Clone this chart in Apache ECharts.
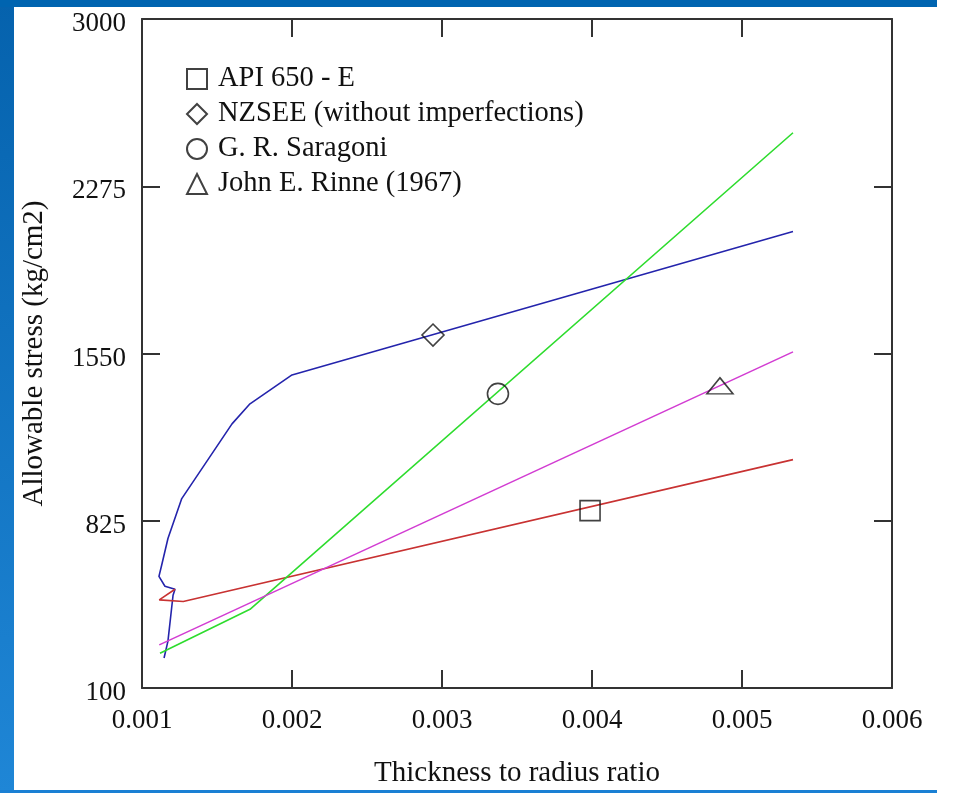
<!DOCTYPE html>
<html>
<head>
<meta charset="utf-8">
<script src="https://cdn.jsdelivr.net/npm/echarts@6/dist/echarts.min.js"></script>
<style>
  html, body { margin: 0; padding: 0; background: #fff; }
  #main { width: 953px; height: 793px; }
</style>
</head>
<body>
<div id="main"></div>
<script>
// axis ticks
var xTicks = [0.001, 0.002, 0.003, 0.004, 0.005, 0.006];
var yTicks = [100, 825, 1550, 2275, 3000];

// NZSEE (without imperfections) - blue
var nzseeX = [0.001147, 0.001173, 0.001207, 0.00122, 0.001153, 0.001113, 0.001131, 0.001173, 0.001265, 0.0016, 0.00172, 0.002, 0.00534];
var nzseeY = [230, 303, 502, 528, 541, 584, 632, 748, 921, 1245, 1332, 1457, 2079];

// API 650 - E - red
var apiX = [0.00122, 0.001115, 0.001275, 0.00534];
var apiY = [528, 482, 475, 1090];

// G. R. Saragoni - green
var saragoniX = [0.00112, 0.00172, 0.00534];
var saragoniY = [251, 441, 2507];

// John E. Rinne (1967) - magenta
var rinneX = [0.001115, 0.00534];
var rinneY = [287, 1557];

// one marker per curve
var markerNames = ['API 650 - E', 'NZSEE (without imperfections)', 'G. R. Saragoni', 'John E. Rinne (1967)'];
var markerSymbols = ['rect', 'diamond', 'circle', 'triangle'];
var markerX = [0.003987, 0.00294, 0.003373, 0.004853];
var markerY = [869, 1630, 1375, 1410];

function pairs(xs, ys) {
  return xs.map(function (x, i) { return [x, ys[i]]; });
}

var FONT = '"Liberation Serif", "DejaVu Serif", serif';
var chart = echarts.init(document.getElementById('main'));

function lineSeries(xs, ys, color) {
  return {
    type: 'line',
    data: pairs(xs, ys),
    symbol: 'none',
    silent: true,
    z: 2,
    lineStyle: { color: color, width: 1.6 }
  };
}

var series = [
  lineSeries(nzseeX, nzseeY, '#2424ac'),
  lineSeries(apiX, apiY, '#c83232'),
  lineSeries(saragoniX, saragoniY, '#2edc2e'),
  lineSeries(rinneX, rinneY, '#d23cd2')
];

var symSizes = [[20, 20], [22, 22], [21, 21], [26, 16]];
markerNames.forEach(function (name, i) {
  series.push({
    type: 'scatter',
    name: name,
    data: [[markerX[i], markerY[i]]],
    symbol: markerSymbols[i],
    symbolSize: symSizes[i],
    z: 5,
    itemStyle: { color: 'rgba(255,255,255,0)', borderColor: '#111', borderWidth: 1.6 }
  });
});

var axisLine = { show: true, lineStyle: { color: '#333', width: 2 } };
var axisTick = { show: true, inside: true, length: 18, lineStyle: { color: '#333', width: 2 } };

var option = {
  backgroundColor: '#fff',
  animation: false,
  graphic: [
    { type: 'rect', shape: { x: 0, y: 0, width: 14, height: 793 },
      style: { fill: new echarts.graphic.LinearGradient(0, 0, 0, 1, [
        { offset: 0, color: '#0562ad' }, { offset: 1, color: '#1f86d6' }]) } },
    { type: 'rect', shape: { x: 0, y: 0, width: 937, height: 7 }, style: { fill: '#0064b0' } },
    { type: 'rect', shape: { x: 0, y: 790, width: 937, height: 3 }, style: { fill: '#1a80d4' } }
  ],
  grid: { left: 142, right: 61, top: 19, bottom: 103 },
  legend: {
    orient: 'vertical',
    left: 181,
    top: 59,
    itemWidth: 20,
    itemHeight: 20,
    itemGap: 5,
    data: markerNames.map(function (n, i) { return { name: n, icon: markerSymbols[i] }; }),
    textStyle: { fontFamily: FONT, fontSize: 28.5, color: '#111', lineHeight: 30, padding: [0, 0, 0, 6] }
  },
  xAxis: [{
    type: 'value',
    min: 0.001, max: 0.006, interval: 0.001,
    name: 'Thickness to radius ratio',
    nameLocation: 'middle',
    nameGap: 71,
    nameTextStyle: { fontFamily: FONT, fontSize: 29, color: '#111' },
    axisLine: axisLine,
    axisTick: axisTick,
    splitLine: { show: false },
    axisLabel: {
      fontFamily: FONT, fontSize: 27, color: '#111', margin: 19,
      formatter: function (v) { return v.toFixed(3); }
    }
  }, {
    type: 'value', position: 'top',
    min: 0.001, max: 0.006, interval: 0.001,
    axisLine: axisLine, axisTick: axisTick,
    axisLabel: { show: false }, splitLine: { show: false }
  }],
  yAxis: [{
    type: 'value',
    min: 100, max: 3000,
    name: 'Allowable stress (kg/cm2)',
    nameLocation: 'middle',
    nameGap: 93,
    nameTextStyle: { fontFamily: FONT, fontSize: 29, color: '#111' },
    axisLine: axisLine,
    axisTick: Object.assign({ customValues: yTicks }, axisTick),
    splitLine: { show: false },
    axisLabel: {
      color: '#111', margin: 16, customValues: yTicks,
      formatter: function (v) { return '{t|' + v + '}'; },
      rich: { t: { fontFamily: FONT, fontSize: 27, color: '#111', padding: [10, 0, 0, 0] } }
    }
  }, {
    type: 'value', position: 'right',
    min: 100, max: 3000,
    axisLine: axisLine,
    axisTick: Object.assign({ customValues: yTicks }, axisTick),
    axisLabel: { show: false }, splitLine: { show: false }
  }],
  series: series
};

chart.setOption(option);
</script>
</body>
</html>
